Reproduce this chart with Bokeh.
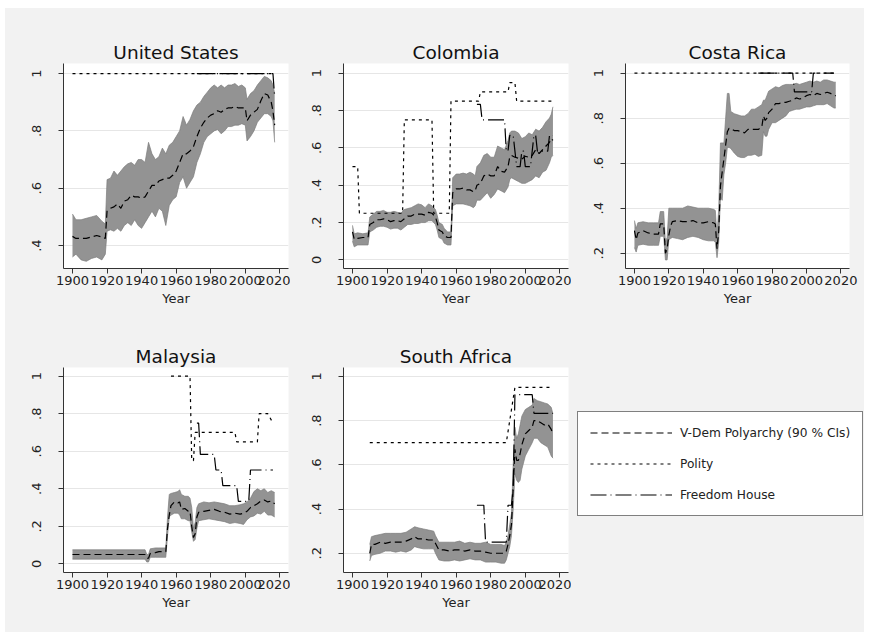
from bokeh.plotting import figure
from bokeh.layouts import row, column
from bokeh.models import Range1d, FixedTicker, Legend, LegendItem
from bokeh.embed import file_html
from bokeh.resources import INLINE

# ---------------- data ----------------
x_ticks = [1900, 1920, 1940, 1960, 1980, 2000, 2020]

# United States
us_year = [1900,1902,1905,1908,1911,1914,1917,1919,1920,1922,1924,1926,1928,1930,1932,1934,1936,1938,1940,1942,1944,1946,1948,1950,1952,1954,1956,1958,1960,1962,1964,1966,1968,1970,1972,1974,1976,1978,1980,1982,1984,1986,1988,1990,1992,1994,1996,1998,2000,2001,2003,2005,2007,2009,2011,2013,2015,2016,2017]
us_mean = [.432,.425,.425,.425,.43,.435,.43,.425,.52,.53,.535,.545,.53,.555,.56,.575,.57,.57,.565,.57,.59,.61,.61,.625,.63,.635,.635,.645,.66,.69,.72,.72,.73,.745,.78,.81,.83,.845,.855,.86,.87,.865,.875,.88,.88,.885,.88,.88,.88,.835,.855,.865,.875,.905,.93,.925,.9,.87,.82]
us_hi = [.51,.49,.49,.495,.5,.505,.485,.475,.63,.635,.66,.645,.66,.675,.685,.69,.68,.7,.7,.69,.76,.72,.7,.71,.74,.72,.75,.76,.78,.8,.85,.82,.84,.87,.89,.9,.92,.935,.95,.96,.95,.96,.95,.96,.96,.965,.955,.96,.95,.91,.93,.94,.96,.975,.99,.985,.975,.96,.93]
us_lo = [.36,.37,.35,.345,.355,.36,.35,.37,.45,.455,.45,.46,.45,.47,.48,.47,.49,.47,.46,.48,.5,.52,.5,.53,.52,.47,.54,.56,.57,.62,.64,.6,.62,.64,.69,.72,.76,.78,.79,.8,.805,.79,.8,.815,.815,.82,.82,.825,.82,.765,.78,.8,.83,.845,.86,.86,.85,.835,.76]
us_pol_year = [1900, 2016]
us_pol = [1, 1]
us_fh_year = [1972, 2016, 2017]
us_fh = [1, 1, .917]

# Colombia
co_year = [1900,1901,1903,1906,1909,1910,1912,1914,1916,1918,1920,1922,1924,1926,1928,1930,1932,1934,1936,1938,1940,1942,1944,1946,1948,1949,1950,1952,1953,1955,1957,1958,1960,1962,1964,1966,1968,1970,1971,1972,1974,1976,1978,1980,1982,1984,1986,1988,1990,1991,1992,1994,1996,1998,2000,2002,2004,2006,2008,2010,2012,2014,2015,2016]
co_mean = [.15,.11,.115,.12,.12,.19,.2,.215,.215,.22,.215,.205,.21,.21,.205,.22,.235,.235,.245,.245,.245,.24,.255,.25,.23,.2,.16,.15,.13,.12,.12,.36,.38,.38,.385,.375,.375,.365,.37,.4,.41,.45,.46,.45,.45,.5,.475,.47,.5,.55,.56,.55,.545,.54,.555,.55,.56,.59,.57,.59,.61,.63,.65,.64]
co_hi = [.185,.14,.145,.14,.145,.23,.245,.26,.26,.265,.255,.255,.26,.255,.25,.27,.275,.28,.29,.3,.295,.28,.3,.29,.27,.24,.2,.19,.17,.15,.15,.44,.46,.46,.465,.46,.47,.46,.45,.5,.52,.56,.57,.55,.55,.61,.6,.59,.64,.68,.69,.69,.68,.65,.66,.68,.67,.7,.69,.71,.74,.76,.78,.82]
co_lo = [.1,.07,.08,.08,.08,.15,.16,.175,.18,.18,.175,.165,.17,.17,.16,.175,.19,.19,.195,.195,.2,.2,.21,.21,.19,.16,.12,.11,.09,.08,.08,.29,.3,.3,.3,.295,.29,.28,.29,.32,.32,.34,.36,.33,.35,.38,.37,.36,.39,.43,.44,.43,.42,.41,.41,.42,.43,.45,.44,.47,.48,.52,.55,.56]
co_pol_year = [1900,1903,1904,1929,1930,1946,1947,1956,1957,1973,1974,1990,1991,1994,1995,2016]
co_pol = [.5,.5,.25,.25,.75,.75,.25,.25,.85,.85,.9,.9,.95,.95,.85,.85]
co_fh_year = [1972,1974,1975,1988,1989,1990,1991,1993,1994,1995,1997,1998,1999,2000,2003,2004,2005,2006,2007,2013,2014,2016]
co_fh = [.833,.833,.75,.75,.583,.583,.667,.667,.583,.5,.5,.583,.583,.5,.5,.583,.667,.667,.583,.583,.667,.667]

# Costa Rica
cr_year = [1900,1901,1902,1905,1908,1911,1914,1915,1917,1918,1919,1920,1921,1922,1925,1928,1931,1934,1937,1940,1943,1946,1947,1948,1949,1950,1951,1952,1953,1954,1955,1956,1958,1960,1962,1964,1966,1968,1970,1972,1974,1975,1976,1977,1978,1980,1982,1984,1986,1988,1990,1992,1994,1996,1998,2000,2002,2004,2006,2008,2010,2012,2014,2016,2017]
cr_mean = [.3,.26,.29,.3,.29,.285,.285,.33,.33,.2,.22,.28,.32,.34,.345,.34,.34,.345,.335,.335,.34,.335,.33,.22,.3,.5,.56,.62,.68,.74,.755,.755,.745,.745,.74,.735,.75,.75,.75,.75,.76,.81,.79,.8,.825,.84,.865,.865,.87,.87,.875,.88,.89,.885,.89,.9,.905,.9,.91,.905,.91,.915,.91,.9,.9]
cr_hi = [.345,.31,.335,.34,.335,.335,.335,.385,.385,.25,.27,.4,.4,.4,.4,.4,.41,.405,.4,.4,.4,.395,.39,.28,.4,.69,.69,.69,.8,.91,.91,.83,.82,.815,.81,.81,.82,.84,.84,.85,.86,.88,.88,.9,.92,.93,.94,.935,.945,.95,.95,.95,.955,.95,.955,.96,.965,.96,.965,.96,.97,.97,.965,.96,.96]
cr_lo = [.225,.205,.235,.24,.235,.235,.235,.275,.275,.17,.17,.26,.265,.27,.265,.26,.27,.275,.27,.26,.255,.255,.25,.18,.25,.45,.435,.55,.6,.67,.67,.665,.645,.63,.625,.625,.635,.635,.64,.63,.635,.74,.72,.72,.75,.78,.78,.79,.8,.81,.83,.835,.84,.84,.845,.85,.85,.855,.86,.86,.86,.865,.855,.845,.845]
cr_pol_year = [1900, 2016]
cr_pol = [1, 1]
cr_fh_year = [1972, 1992, 1993, 2003, 2004, 2016]
cr_fh = [1, 1, .917, .917, 1, 1]

# Malaysia
my_year = [1900,1942,1943,1944,1945,1948,1950,1954,1955,1956,1957,1959,1961,1962,1963,1965,1967,1968,1969,1970,1971,1972,1973,1976,1979,1982,1985,1988,1991,1994,1997,1999,2001,2003,2005,2007,2009,2011,2013,2015,2017]
my_mean = [.05,.05,.03,.03,.055,.06,.065,.065,.19,.26,.31,.33,.325,.33,.29,.295,.28,.28,.2,.14,.16,.25,.275,.28,.285,.29,.28,.275,.265,.27,.265,.27,.28,.3,.31,.32,.335,.34,.33,.335,.32]
my_hi = [.075,.075,.05,.05,.08,.085,.085,.085,.25,.37,.375,.38,.385,.395,.37,.36,.36,.35,.3,.19,.22,.3,.32,.33,.325,.33,.325,.32,.31,.31,.315,.32,.33,.35,.385,.4,.39,.4,.38,.39,.38]
my_lo = [.025,.025,.01,.01,.035,.035,.035,.035,.15,.25,.26,.27,.27,.26,.24,.24,.23,.23,.17,.12,.13,.19,.23,.235,.24,.235,.23,.225,.215,.22,.215,.21,.235,.25,.255,.27,.265,.28,.26,.26,.25]
my_pol_year = [1957, 1968, 1969, 1970, 1971, 1994, 1995, 2007, 2008, 2013, 2016]
my_pol = [1, 1, .55, .55, .7, .7, .65, .65, .8, .8, .75]
my_fh_year = [1972, 1973, 1974, 1982, 1983, 1986, 1987, 1995, 1996, 2002, 2003, 2016]
my_fh = [.75, .75, .583, .583, .5, .5, .417, .417, .333, .333, .5, .5]

# South Africa
za_year = [1910,1911,1913,1916,1919,1922,1925,1928,1931,1934,1936,1938,1941,1944,1947,1948,1950,1953,1956,1959,1962,1965,1968,1971,1974,1977,1980,1983,1986,1988,1989,1990,1991,1992,1993,1994,1995,1996,1997,1998,2000,2002,2004,2005,2007,2009,2011,2013,2015,2016]
za_mean = [.2,.24,.24,.25,.245,.25,.25,.25,.255,.265,.275,.265,.265,.26,.26,.245,.215,.215,.21,.215,.215,.21,.215,.21,.21,.205,.2,.2,.2,.2,.21,.24,.28,.33,.5,.67,.62,.62,.65,.69,.74,.755,.77,.8,.8,.79,.78,.785,.76,.74]
za_hi = [.24,.275,.28,.285,.29,.29,.29,.29,.295,.31,.32,.315,.31,.305,.3,.28,.25,.25,.25,.25,.255,.245,.25,.245,.245,.25,.24,.24,.24,.235,.25,.28,.33,.38,.6,.77,.72,.74,.78,.82,.85,.86,.87,.9,.89,.885,.88,.875,.86,.83]
za_lo = [.165,.19,.195,.2,.21,.21,.205,.21,.205,.215,.23,.225,.22,.22,.22,.2,.17,.165,.165,.17,.165,.17,.175,.17,.17,.16,.16,.16,.155,.155,.17,.2,.23,.28,.4,.56,.53,.52,.53,.58,.64,.67,.7,.72,.72,.7,.69,.68,.64,.63]
za_pol_year = [1910, 1989, 1990, 1991, 1992, 1993, 1994, 2016]
za_pol = [.7, .7, .75, .8, .85, .9, .95, .95]
za_fh_year = [1972, 1976, 1977, 1989, 1990, 1992, 1993, 1994, 2004, 2005, 2016]
za_fh = [.417, .417, .25, .25, .417, .417, .5, .917, .917, .833, .833]

y_ticks_us = [.4, .6, .8, 1]
y_ticks_0 = [0, .2, .4, .6, .8, 1]
y_ticks_2 = [.2, .4, .6, .8, 1]
tick_names = {0: "0", .2: ".2", .4: ".4", .6: ".6", .8: ".8", 1: "1"}

legend_labels = ["V-Dem Polyarchy (90 % CIs)", "Polity", "Freedom House"]

# ---------------- styling ----------------
BG = "#f2f2f2"
FONT = "DejaVu Sans"
BAND = "#939393"
BAND_EDGE = "#7c7c7c"
DASH_VDEM = "7 4"
DASH_POL = "3 4"
DASH_FH = "16 4 1 4"


def panel(title, yr, mean, lo, hi, pyr, pol, fyr, fh, yrange, yticks,
          w, h, bl, br, bt, bb):
    p = figure(width=w, height=h, title=title,
               x_range=Range1d(1894.8, 2025), y_range=Range1d(*yrange),
               output_backend="svg", toolbar_location=None,
               min_border_left=bl, min_border_right=br,
               min_border_top=bt, min_border_bottom=bb)
    p.background_fill_color = "white"
    p.border_fill_color = BG
    p.outline_line_color = None
    p.title.align = "center"
    p.title.text_font = FONT
    p.title.text_font_size = "18.5px"
    p.title.text_font_style = "normal"
    p.title.text_color = "#111111"
    p.title.standoff = 2

    p.varea(x=yr, y1=lo, y2=hi, fill_color=BAND)
    p.line(yr, hi, line_color=BAND_EDGE, line_width=0.7)
    p.line(yr, lo, line_color=BAND_EDGE, line_width=0.7)
    p.line(yr, mean, line_color="black", line_width=1.2, line_dash=DASH_VDEM)
    p.line(pyr, pol, line_color="black", line_width=1.2, line_dash=DASH_POL)
    p.line(fyr, fh, line_color="black", line_width=1.2, line_dash=DASH_FH)

    p.xaxis.ticker = FixedTicker(ticks=x_ticks)
    p.yaxis.ticker = FixedTicker(ticks=yticks)
    p.yaxis.major_label_overrides = {t: tick_names[t] for t in yticks}
    p.yaxis.major_label_orientation = "vertical"
    p.xaxis.axis_label = "Year"
    for ax in (p.xaxis[0], p.yaxis[0]):
        ax.minor_tick_line_color = None
        ax.major_tick_in = 0
        ax.major_tick_out = 5
        ax.axis_line_color = "#333333"
        ax.major_tick_line_color = "#333333"
        ax.major_label_text_font = FONT
        ax.major_label_text_font_size = "13px"
        ax.major_label_text_color = "#222222"
        ax.axis_label_text_font = FONT
        ax.axis_label_text_font_size = "13px"
        ax.axis_label_text_font_style = "normal"
        ax.axis_label_text_color = "#222222"
    p.xaxis.major_label_standoff = 2
    p.xaxis.axis_label_standoff = 3
    p.yaxis.major_label_standoff = 17
    p.xgrid.visible = False
    p.ygrid.grid_line_color = "#e6e6e6"
    return p


p1 = panel("United States", us_year, us_mean, us_lo, us_hi, us_pol_year, us_pol,
           us_fh_year, us_fh, (0.32, 1.035), y_ticks_us, 285, 305, 58, 2, 55, 45)
p2 = panel("Colombia", co_year, co_mean, co_lo, co_hi, co_pol_year, co_pol,
           co_fh_year, co_fh, (-0.046, 1.052), y_ticks_0, 281, 305, 53, 3, 55, 45)
p3 = panel("Costa Rica", cr_year, cr_mean, cr_lo, cr_hi, cr_pol_year, cr_pol,
           cr_fh_year, cr_fh, (0.132, 1.043), y_ticks_2, 293, 305, 54, 15, 55, 45)
p4 = panel("Malaysia", my_year, my_mean, my_lo, my_hi, my_pol_year, my_pol,
           my_fh_year, my_fh, (-0.046, 1.046), y_ticks_0, 285, 319, 58, 2, 54, 60)
p5 = panel("South Africa", za_year, za_mean, za_lo, za_hi, za_pol_year, za_pol,
           za_fh_year, za_fh, (0.113, 1.04), y_ticks_2, 281, 319, 53, 3, 54, 60)

# legend panel
pl = figure(width=293, height=319, x_range=Range1d(0, 1), y_range=Range1d(0, 1),
            x_axis_type=None, y_axis_type=None, output_backend="svg",
            toolbar_location=None, min_border=0)
pl.background_fill_color = BG
pl.border_fill_color = BG
pl.outline_line_color = None
pl.grid.visible = False
# dummy renderers placed outside the visible range, used only by the legend
r1 = pl.line([5, 6], [5, 6], line_color="black", line_width=1.2, line_dash=DASH_VDEM)
r2 = pl.line([5, 6], [5, 6], line_color="black", line_width=1.2, line_dash=DASH_POL)
r3 = pl.line([5, 6], [5, 6], line_color="black", line_width=1.2, line_dash=DASH_FH)
leg = Legend(items=[LegendItem(label=legend_labels[0], renderers=[r1]),
                    LegendItem(label=legend_labels[1], renderers=[r2]),
                    LegendItem(label=legend_labels[2], renderers=[r3])],
             location=(6, 56), glyph_width=82, glyph_height=17,
             label_standoff=8, padding=12, spacing=14, margin=0,
             border_line_color="black", border_line_width=1,
             background_fill_color="white", background_fill_alpha=1,
             label_text_font=FONT, label_text_font_size="12.2px",
             label_text_color="#222222")
pl.add_layout(leg)

bg_style = {"background-color": BG}
layout = column(row(p1, p2, p3, styles=bg_style),
                row(p4, p5, pl, styles=bg_style),
                margin=(8, 0, 0, 5), styles=bg_style)

open("out.html", "w").write(file_html(layout, INLINE))
